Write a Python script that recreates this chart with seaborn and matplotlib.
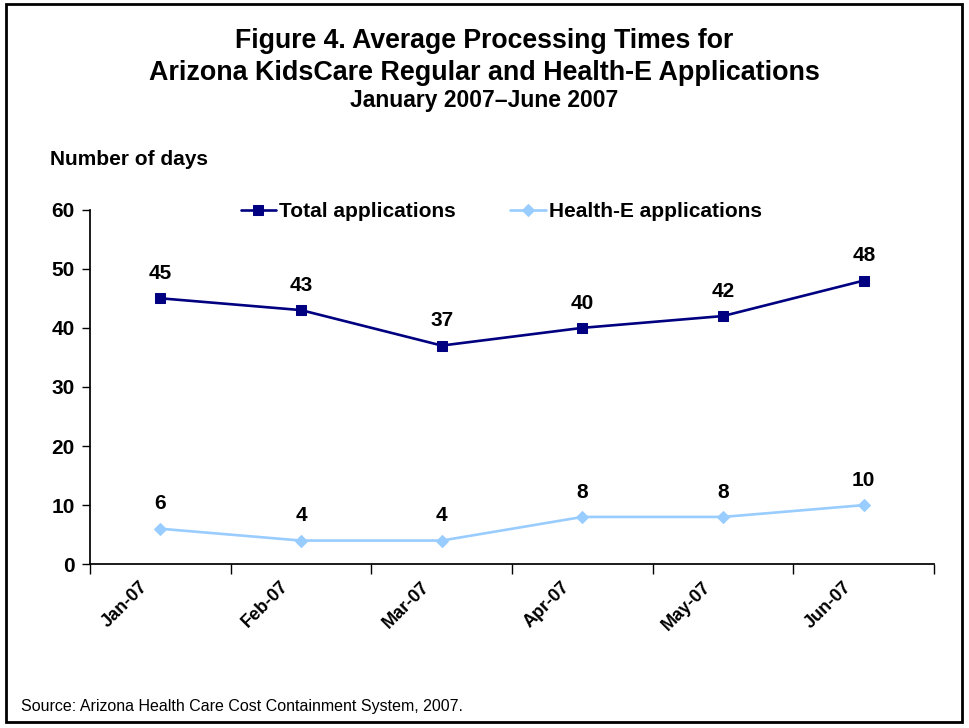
import pandas as pd
import matplotlib.pyplot as plt
import seaborn as sns
from matplotlib.patches import Rectangle

# data
months = ["Jan-07", "Feb-07", "Mar-07", "Apr-07", "May-07", "Jun-07"]
total_apps = [45, 43, 37, 40, 42, 48]
health_e_apps = [6, 4, 4, 8, 8, 10]

df = pd.DataFrame({"pos": range(len(months)), "Month": months,
                   "Total applications": total_apps,
                   "Health-E applications": health_e_apps})

sns.set_theme(style="white")
plt.rcParams['font.family'] = ['Liberation Sans', 'DejaVu Sans']
plt.rcParams['text.color'] = 'black'
plt.rcParams['xtick.color'] = 'black'
plt.rcParams['ytick.color'] = 'black'

fig = plt.figure(figsize=(9.69, 7.28), dpi=100)
ax = fig.add_axes([0.093, 0.225, 0.871, 0.487])

sns.lineplot(data=df, x="pos", y="Total applications", ax=ax, color="#000080",
             marker="s", markersize=7.5, markeredgecolor="#000080", linewidth=1.9,
             label="Total applications")
sns.lineplot(data=df, x="pos", y="Health-E applications", ax=ax, color="#99CCFF",
             marker="D", markersize=6.5, markeredgecolor="#99CCFF", linewidth=1.9,
             label="Health-E applications")

# value labels
for i, row in df.iterrows():
    for col in ["Total applications", "Health-E applications"]:
        ax.annotate(str(row[col]), (row["pos"], row[col]),
                    xytext=(0, 11), textcoords="offset points", ha="center", va="bottom",
                    fontsize=15, fontweight="bold")

ax.set_xlim(-0.5, len(months) - 0.5)
ax.set_ylim(0, 60)
ax.set_yticks(range(0, 61, 10))
ax.set_xticks([i - 0.5 for i in range(len(months) + 1)])
ax.set_xticklabels([])
# labels sit a little left of the category centre, like excel
ax.set_xticks([i - 0.15 for i in range(len(months))], minor=True)
ax.set_xticklabels(months, minor=True, rotation=45, ha="right", va="top",
                   rotation_mode="anchor", fontsize=13, fontweight="bold")
ax.tick_params(axis="x", which="major", direction="out", length=7, width=1, color="black", bottom=True)
ax.tick_params(axis="x", which="minor", length=0, pad=10)
ax.tick_params(axis="y", direction="out", length=6, width=1, color="black", left=True,
               labelsize=15, pad=5)
for lab in ax.get_yticklabels():
    lab.set_fontweight("bold")

ax.set_xlabel("")
ax.set_ylabel("")
sns.despine(ax=ax)
ax.spines["left"].set_color("black")
ax.spines["bottom"].set_color("black")

ax.legend(loc="center", bbox_to_anchor=(0.487, 0.995), ncol=2, frameon=False,
          prop={"weight": "bold", "size": 15}, handlelength=1.7, columnspacing=2.6,
          handletextpad=0.15)

fig.text(0.5, 0.934, "Figure 4. Average Processing Times for", ha="center",
         va="baseline", fontsize=19.2, fontweight="bold")
fig.text(0.5, 0.890, "Arizona KidsCare Regular and Health-E Applications", ha="center",
         va="baseline", fontsize=19.4, fontweight="bold")
fig.text(0.5, 0.853, "January 2007\u2013June 2007", ha="center",
         va="baseline", fontsize=16.5, fontweight="bold")
fig.text(0.052, 0.773, "Number of days", va="baseline", fontsize=15, fontweight="bold")
fig.text(0.022, 0.024, "Source: Arizona Health Care Cost Containment System, 2007.",
         fontsize=11.5)

fig.patches.append(Rectangle((0.006, 0.008), 0.987, 0.987, transform=fig.transFigure,
                             fill=False, edgecolor="black", linewidth=2))

fig.savefig("out.png", dpi=100)
